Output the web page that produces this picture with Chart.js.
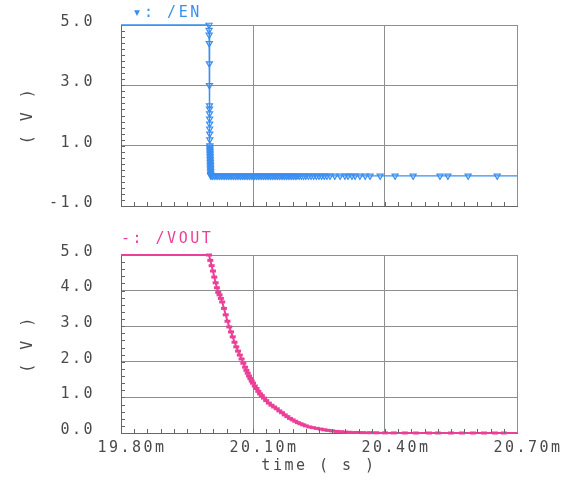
<!DOCTYPE html>
<html>
<head>
<meta charset="utf-8">
<script src="https://cdn.jsdelivr.net/npm/chart.js@4/dist/chart.umd.min.js"></script>
<style>
  html, body { margin: 0; padding: 0; background: #ffffff; }
  #wrap { position: relative; width: 575px; height: 485px; background: #fff; }
  #c1 { position: absolute; left: 0; top: 0; }
  #c2 { position: absolute; left: 0; top: 215px; }
</style>
</head>
<body>
<div id="wrap">
  <canvas id="c1" width="575" height="215"></canvas>
  <canvas id="c2" width="575" height="270"></canvas>
</div>
<script>
// ---------- DATA (time in ms, voltage in V) ----------
const xTickValues = [19.80, 20.10, 20.40, 20.70];
const xTickLabels = ['19.80m', '20.10m', '20.40m', '20.70m'];
const enTickValues = [-1, 1, 3, 5];
const enTickLabels = ['-1.0', '1.0', '3.0', '5.0'];
const voutTickValues = [0, 1, 2, 3, 4, 5];
const voutTickLabels = ['0.0', '1.0', '2.0', '3.0', '4.0', '5.0'];

const enTime = [19.800, 20.000, 20.0002, 20.0004, 20.0006, 20.0008, 20.0010, 20.0011, 20.0012, 20.0013,
  20.0014, 20.0015, 20.0016, 20.0017, 20.0018, 20.0019, 20.0020, 20.0021, 20.0022, 20.0023,
  20.0024, 20.0025, 20.0026, 20.0027, 20.0028, 20.0029, 20.0030, 20.0031, 20.0032, 20.0033,
  20.0034, 20.0035, 20.0036, 20.0037, 20.0038, 20.0040, 20.0045,
  20.008, 20.012, 20.016, 20.020, 20.024, 20.028, 20.032, 20.036, 20.040, 20.044,
  20.048, 20.052, 20.056, 20.060, 20.064, 20.068, 20.072, 20.076, 20.080, 20.084,
  20.088, 20.092, 20.096, 20.100, 20.104, 20.108, 20.112, 20.116, 20.120, 20.124,
  20.128, 20.132, 20.136, 20.140, 20.144, 20.148, 20.152, 20.156, 20.160, 20.164,
  20.168, 20.172, 20.176, 20.180, 20.184, 20.188, 20.192, 20.196, 20.200, 20.205,
  20.210, 20.215, 20.220, 20.226, 20.232, 20.238, 20.244, 20.250, 20.256, 20.262,
  20.268, 20.275, 20.286, 20.298, 20.309, 20.316, 20.325, 20.332, 20.343, 20.355,
  20.366, 20.389, 20.423, 20.464, 20.525, 20.543, 20.589, 20.655, 20.700];
const enVolt = [5.00, 5.00, 4.83, 4.67, 4.39, 3.72, 3.00, 2.33, 2.22, 2.06,
  1.89, 1.72, 1.56, 1.39, 1.20, 1.00, 0.95, 0.90, 0.85, 0.80,
  0.75, 0.70, 0.65, 0.60, 0.55, 0.50, 0.45, 0.40, 0.35, 0.30,
  0.25, 0.20, 0.15, 0.10, 0.05, 0.02, 0.00,
  0.00, 0.00, 0.00, 0.00, 0.00, 0.00, 0.00, 0.00, 0.00, 0.00,
  0.00, 0.00, 0.00, 0.00, 0.00, 0.00, 0.00, 0.00, 0.00, 0.00,
  0.00, 0.00, 0.00, 0.00, 0.00, 0.00, 0.00, 0.00, 0.00, 0.00,
  0.00, 0.00, 0.00, 0.00, 0.00, 0.00, 0.00, 0.00, 0.00, 0.00,
  0.00, 0.00, 0.00, 0.00, 0.00, 0.00, 0.00, 0.00, 0.00, 0.00,
  0.00, 0.00, 0.00, 0.00, 0.00, 0.00, 0.00, 0.00, 0.00, 0.00,
  0.00, 0.00, 0.00, 0.00, 0.00, 0.00, 0.00, 0.00, 0.00, 0.00,
  0.00, 0.00, 0.00, 0.00, 0.00, 0.00, 0.00, 0.00, 0.00];

const voutTime = [19.800, 20.000, 20.003, 20.006, 20.009, 20.012, 20.015, 20.018, 20.021, 20.024,
  20.027, 20.030, 20.034, 20.038, 20.042, 20.046, 20.050, 20.054, 20.058, 20.062,
  20.066, 20.070, 20.074, 20.078, 20.082, 20.085, 20.088, 20.091, 20.094, 20.097,
  20.100, 20.104, 20.108, 20.112, 20.116, 20.120, 20.125, 20.130, 20.136, 20.142,
  20.148, 20.154, 20.160, 20.166, 20.172, 20.178, 20.184, 20.190, 20.196, 20.202,
  20.208, 20.214, 20.220, 20.228, 20.236, 20.245, 20.254, 20.262, 20.270, 20.280,
  20.290, 20.300, 20.310, 20.320, 20.335, 20.350, 20.365, 20.380, 20.400, 20.420,
  20.445, 20.470, 20.500, 20.520, 20.550, 20.575, 20.600, 20.625, 20.650, 20.670, 20.700];
const voutVolt = [5.00, 5.00, 4.85, 4.70, 4.55, 4.38, 4.22, 4.08, 3.95, 3.88,
  3.78, 3.68, 3.50, 3.32, 3.14, 2.98, 2.84, 2.70, 2.55, 2.42,
  2.30, 2.19, 2.08, 1.96, 1.85, 1.76, 1.68, 1.60, 1.53, 1.46,
  1.40, 1.32, 1.25, 1.17, 1.10, 1.05, 0.98, 0.91, 0.84, 0.78,
  0.73, 0.68, 0.62, 0.57, 0.51, 0.46, 0.41, 0.37, 0.33, 0.29,
  0.26, 0.23, 0.20, 0.17, 0.15, 0.13, 0.11, 0.09, 0.075, 0.06,
  0.045, 0.035, 0.025, 0.02, 0.015, 0.01, 0.008, 0.005, 0.003, 0.002,
  0.001, 0.00, 0.00, 0.00, 0.00, 0.00, 0.00, 0.00, 0.00, 0.00, 0.00];

// ---------- STYLE ----------
const BLUE = '#3a8ef0';
const PINK = '#ec3f97';
const TEXT = '#4a4a4a';
const GRID = '#8e8e8e';
const AXIS = '#666666';
const FONT = "'DejaVu Sans Mono', 'Liberation Mono', monospace";
const FSIZE = 15;

const spacingPlugin = {
  id: 'spacing',
  beforeDraw(chart) { chart.ctx.letterSpacing = '2.5px'; }
};

const minorTicks = {
  id: 'minorTicks',
  afterDatasetsDraw(chart, args, opts) {
    const { ctx, chartArea: a, scales: { x, y } } = chart;
    ctx.save();
    ctx.strokeStyle = AXIS;
    ctx.lineWidth = 1;
    ctx.beginPath();
    const nx = Math.round((x.max - x.min) / opts.xStep);
    for (let i = 1; i < nx; i++) {
      const px = Math.round(x.getPixelForValue(x.min + i * opts.xStep)) + 0.5;
      ctx.moveTo(px, a.bottom);
      ctx.lineTo(px, a.bottom - 4);
    }
    const ny = Math.round((y.max - y.min) / opts.yStep);
    for (let i = 1; i < ny; i++) {
      const py = Math.round(y.getPixelForValue(y.min + i * opts.yStep)) + 0.5;
      ctx.moveTo(a.left, py);
      ctx.lineTo(a.left + 4, py);
    }
    ctx.stroke();
    ctx.restore();
  }
};

function pts(t, v) { return t.map((tt, i) => ({ x: tt, y: v[i] })); }

function xScale(showLabels, height) {
  return {
    type: 'linear', min: 19.8, max: 20.7,
    afterBuildTicks: s => { s.ticks = xTickValues.map(v => ({ value: v })); },
    afterFit: s => { s.height = height; },
    ticks: {
      display: showLabels, color: TEXT, padding: 6, maxRotation: 0, autoSkip: false,
      labelOffset: 11,
      font: { family: FONT, size: FSIZE },
      callback: (v, i) => xTickLabels[i]
    },
    grid: { color: GRID, drawTicks: false, lineWidth: 1 },
    border: { color: AXIS, width: 1 },
    title: showLabels ? {
      display: true, text: 'time ( s )', color: TEXT,
      font: { family: FONT, size: FSIZE, lineHeight: 1.2 }, padding: { top: 10, bottom: 10 }
    } : { display: false }
  };
}

function yScale(min, max, values, labels) {
  return {
    type: 'linear', min: min, max: max,
    afterBuildTicks: s => { s.ticks = values.map(v => ({ value: v })); },
    afterFit: s => { s.width = 121; },
    ticks: {
      color: TEXT, padding: 0, labelOffset: -3, font: { family: FONT, size: FSIZE },
      callback: (v, i) => labels[i]
    },
    grid: { color: GRID, drawTicks: true, tickLength: 26, tickColor: 'rgba(0,0,0,0)', lineWidth: 1 },
    border: { color: AXIS, width: 1 },
    title: {
      display: true, text: '( V )', color: TEXT,
      font: { family: FONT, size: FSIZE, lineHeight: 1.2 }, padding: { top: 19, bottom: 0 }
    }
  };
}

new Chart(document.getElementById('c1'), {
  type: 'line',
  data: {
    datasets: [{
      label: '/EN',
      data: pts(enTime, enVolt),
      borderColor: BLUE, borderWidth: 1.3, tension: 0,
      pointStyle: 'triangle', pointRotation: 180,
      pointRadius: ctx => (ctx.dataIndex === 0 || ctx.dataIndex === enTime.length - 1) ? 0 : 3.5,
      pointBorderColor: BLUE, pointBackgroundColor: 'rgba(255,255,255,0)', pointBorderWidth: 1.2,
      clip: 4
    }]
  },
  options: {
    responsive: false, animation: false, devicePixelRatio: 1,
    layout: { padding: { left: 0, right: 58, top: 0, bottom: 0 } },
    plugins: {
      legend: { display: false },
      tooltip: { enabled: false },
      title: {
        display: true, text: ' \u25BE: /EN', align: 'start', fullSize: false, color: BLUE,
        font: { family: FONT, size: FSIZE, weight: 'normal', lineHeight: 1.2 },
        padding: { top: 4, bottom: 3 }
      },
      minorTicks: { xStep: 0.03, yStep: 0.2 }
    },
    scales: {
      x: xScale(false, 9),
      y: yScale(-1, 5, enTickValues, enTickLabels)
    }
  },
  plugins: [spacingPlugin, minorTicks]
});

new Chart(document.getElementById('c2'), {
  type: 'line',
  data: {
    datasets: [{
      label: '/VOUT',
      data: pts(voutTime, voutVolt),
      borderColor: PINK, borderWidth: 2, tension: 0,
      pointStyle: 'line',
      pointRadius: ctx => (ctx.dataIndex === 0 || ctx.dataIndex === voutTime.length - 1) ? 0 : 3,
      pointBorderColor: PINK, pointBorderWidth: 3,
      clip: 4
    }]
  },
  options: {
    responsive: false, animation: false, devicePixelRatio: 1,
    layout: { padding: { left: 0, right: 58, top: 0, bottom: 0 } },
    plugins: {
      legend: { display: false },
      tooltip: { enabled: false },
      title: {
        display: true, text: '-: /VOUT', align: 'start', fullSize: false, color: PINK,
        font: { family: FONT, size: FSIZE, weight: 'normal', lineHeight: 1.2 },
        padding: { top: 15, bottom: 7 }
      },
      minorTicks: { xStep: 0.03, yStep: 0.2 }
    },
    scales: {
      x: xScale(true, 52),
      y: yScale(0, 5, voutTickValues, voutTickLabels)
    }
  },
  plugins: [spacingPlugin, minorTicks]
});
</script>
</body>
</html>
